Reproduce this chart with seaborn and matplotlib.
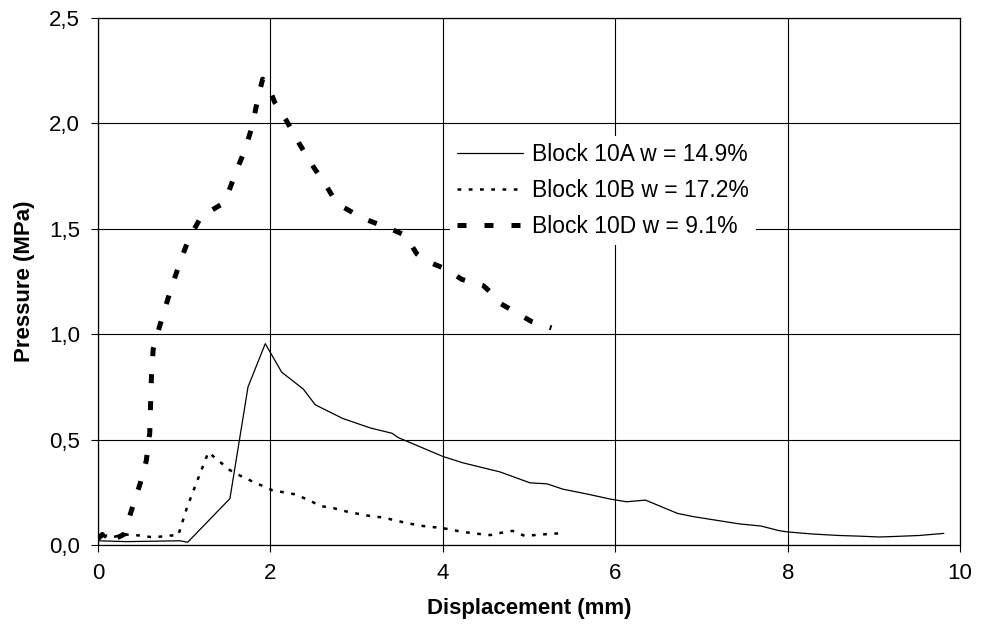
import seaborn as sns
import pandas as pd
import matplotlib
matplotlib.use('Agg')
import matplotlib.pyplot as plt
from matplotlib.ticker import FuncFormatter, MultipleLocator

# Block 10A w = 14.9%
x_10a = [0.0, 0.33, 0.95, 1.04, 1.53, 1.74, 1.94, 2.13, 2.38, 2.52, 2.84, 3.16, 3.41, 3.48,
         3.74, 4.0, 4.23, 4.43, 4.66, 5.01, 5.21, 5.39, 5.67, 5.94, 6.13, 6.35, 6.72, 6.9,
         7.13, 7.44, 7.69, 7.9, 8.0, 8.29, 8.6, 8.83, 9.06, 9.21, 9.52, 9.81]
y_10a = [0.02, 0.016, 0.02, 0.013, 0.22, 0.75, 0.955, 0.82, 0.74, 0.665, 0.60, 0.555, 0.53, 0.51,
         0.465, 0.42, 0.39, 0.37, 0.347, 0.295, 0.29, 0.265, 0.242, 0.218, 0.205, 0.213, 0.15, 0.135,
         0.12, 0.1, 0.09, 0.068, 0.062, 0.052, 0.045, 0.042, 0.038, 0.04, 0.045, 0.055]

# Block 10B w = 17.2%
x_10b = [0.0, 0.03, 0.06, 0.1, 0.15, 0.2, 0.3, 0.49, 0.64, 0.84, 0.93, 0.98, 1.03, 1.09, 1.28,
         1.53, 1.69, 2.02, 2.29, 2.46, 2.58, 2.73, 2.9, 3.12, 3.31, 3.58, 3.77, 4.0, 4.23, 4.43,
         4.55, 4.7, 4.81, 4.95, 5.15, 5.34]
y_10b = [0.03, 0.05, 0.03, 0.045, 0.035, 0.04, 0.05, 0.045, 0.036, 0.045, 0.045, 0.11, 0.175, 0.24, 0.44,
         0.355, 0.32, 0.26, 0.24, 0.21, 0.185, 0.175, 0.157, 0.14, 0.13, 0.104, 0.09, 0.08, 0.062, 0.052,
         0.047, 0.06, 0.067, 0.043, 0.05, 0.055]

# Block 10D w = 9.1%
x_10d = [0.0, 0.05, 0.1, 0.15, 0.2, 0.3, 0.39, 0.49, 0.56, 0.6, 0.61, 0.62, 0.64, 0.68, 0.76,
         0.85, 0.95, 1.05, 1.2, 1.45, 1.51, 1.61, 1.71, 1.79, 1.86, 1.91, 1.97, 2.05, 2.19, 2.34,
         2.52, 2.61, 2.77, 3.07, 3.39, 3.56, 3.70, 3.79, 4.03, 4.22, 4.47, 4.55, 4.65, 4.9, 5.03, 5.26]
y_10d = [0.03, 0.05, 0.02, 0.04, 0.03, 0.05, 0.166, 0.293, 0.40, 0.53, 0.67, 0.80, 0.93, 0.99, 1.10,
         1.22, 1.34, 1.45, 1.56, 1.62, 1.67, 1.78, 1.88, 1.99, 2.13, 2.21, 2.18, 2.10, 2.01, 1.90,
         1.78, 1.73, 1.62, 1.55, 1.50, 1.47, 1.38, 1.35, 1.31, 1.26, 1.23, 1.20, 1.15, 1.09, 1.06, 1.03]

labels = ['Block 10A w = 14.9%', 'Block 10B w = 17.2%', 'Block 10D w = 9.1%']

sns.set_style('white')
plt.rcParams['font.family'] = ['Liberation Sans', 'DejaVu Sans']

fig = plt.figure(figsize=(9.95, 6.31), dpi=100)
ax = fig.add_axes([0.0985, 0.1363, 0.8665, 0.8352])

sns.lineplot(x=x_10a, y=y_10a, ax=ax, color='black', lw=0.9, sort=False, estimator=None,
             label=labels[0])
sns.lineplot(x=x_10b, y=y_10b, ax=ax, color='black', lw=1.8, sort=False, estimator=None,
             linestyle=(0, (1.5, 3)), label=labels[1])
sns.lineplot(x=x_10d, y=y_10d, ax=ax, color='black', lw=3.6, sort=False, estimator=None,
             linestyle=(0, (1.8, 3.6)), label=labels[2])

ax.set_xlim(0, 10)
ax.set_ylim(0, 2.5)
ax.xaxis.set_major_locator(MultipleLocator(2))
ax.yaxis.set_major_locator(MultipleLocator(0.5))
ax.yaxis.set_major_formatter(FuncFormatter(lambda v, p: f'{v:.1f}'.replace('.', ',')))
ax.xaxis.set_major_formatter(FuncFormatter(lambda v, p: f'{v:.0f}'))
ax.grid(True, color='black', lw=0.8)
ax.set_axisbelow(True)
for s in ax.spines.values():
    s.set_color('black')
    s.set_linewidth(0.9)
ax.tick_params(direction='out', length=5, width=0.8, color='black', labelsize=16,
               labelcolor='black', pad=8, bottom=True, left=True)

ax.set_xlabel('Displacement (mm)', fontsize=16, fontweight='bold', labelpad=10, color='black')
ax.set_ylabel('Pressure (MPa)', fontsize=16, fontweight='bold', labelpad=10, color='black')

leg = ax.legend(loc='upper left', bbox_to_anchor=(0.408, 0.776), borderaxespad=0,
                frameon=True, fancybox=False, framealpha=1, facecolor='white',
                edgecolor='none', fontsize=16.5, handlelength=2.9, handletextpad=0.4,
                labelspacing=0.58, borderpad=0.3)
for t in leg.get_texts():
    t.set_color('black')

fig.savefig('out.png', dpi=100)
